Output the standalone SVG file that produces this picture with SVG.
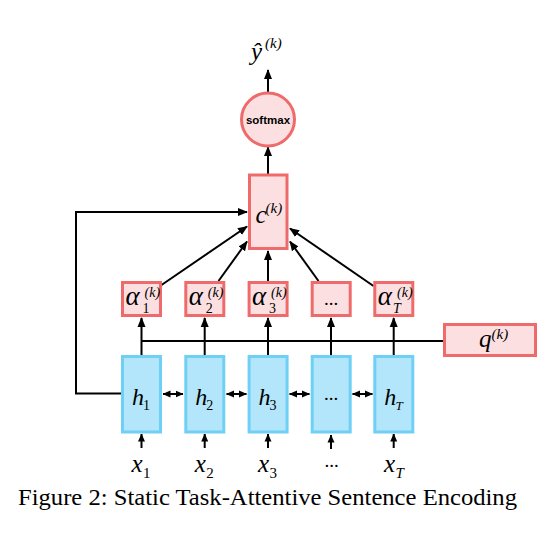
<svg xmlns="http://www.w3.org/2000/svg" width="538" height="544" viewBox="0 0 538 544">
<style>
.pk{fill:#fce0e1;stroke:#ef6b6b;stroke-width:3}
.bl{fill:#b3e6fa;stroke:#6fd0f6;stroke-width:3}
.ln{fill:none;stroke:#000;stroke-width:2}
.m{font-family:"Liberation Serif",Times,serif;font-style:italic;fill:#000}
.r{font-family:"Liberation Serif",Times,serif;font-style:normal;fill:#000}
.sf{font-family:"Liberation Sans",Arial,sans-serif;font-weight:bold;fill:#000}
</style>
<defs>
<marker id="ah" markerUnits="userSpaceOnUse" markerWidth="10" markerHeight="10" refX="9" refY="5" orient="auto-start-reverse" viewBox="0 0 10 10"><path d="M0,1 L10,5 L0,9 z" fill="#000"/></marker>
<marker id="as" markerUnits="userSpaceOnUse" markerWidth="8" markerHeight="8" refX="7.5" refY="4" orient="auto-start-reverse" viewBox="0 0 8 8"><path d="M0,0.5 L8,4 L0,7.5 z" fill="#000"/></marker>
</defs>

<g id="connectors">
  <line class="ln" x1="141.5" y1="448" x2="141.5" y2="434" marker-end="url(#as)"/>
  <line class="ln" x1="204.7" y1="448" x2="204.7" y2="434" marker-end="url(#as)"/>
  <line class="ln" x1="268" y1="448" x2="268" y2="434" marker-end="url(#as)"/>
  <line class="ln" x1="331" y1="449" x2="331" y2="435" marker-end="url(#as)"/>
  <line class="ln" x1="393.7" y1="448" x2="393.7" y2="434" marker-end="url(#as)"/>
  <line class="ln" x1="163" y1="394" x2="183" y2="394" marker-start="url(#as)" marker-end="url(#as)"/>
  <line class="ln" x1="226.5" y1="394" x2="246.5" y2="394" marker-start="url(#as)" marker-end="url(#as)"/>
  <line class="ln" x1="289.5" y1="394" x2="309.5" y2="394" marker-start="url(#as)" marker-end="url(#as)"/>
  <line class="ln" x1="352.5" y1="394" x2="372.5" y2="394" marker-start="url(#as)" marker-end="url(#as)"/>
  <line class="ln" x1="141.5" y1="341" x2="443" y2="341"/>
  <line class="ln" x1="141.5" y1="355" x2="141.5" y2="318" marker-end="url(#ah)"/>
  <line class="ln" x1="204.7" y1="355" x2="204.7" y2="318" marker-end="url(#ah)"/>
  <line class="ln" x1="268" y1="355" x2="268" y2="318" marker-end="url(#ah)"/>
  <line class="ln" x1="331" y1="355" x2="331" y2="318" marker-end="url(#ah)"/>
  <line class="ln" x1="393.7" y1="355" x2="393.7" y2="318" marker-end="url(#ah)"/>
  <polyline class="ln" points="121,393.5 76,393.5 76,212 247,212" marker-end="url(#ah)"/>
  <line class="ln" x1="161.5" y1="285" x2="247" y2="226.5" marker-end="url(#ah)"/>
  <line class="ln" x1="218.5" y1="281" x2="247" y2="241.5" marker-end="url(#ah)"/>
  <line class="ln" x1="268" y1="281" x2="268" y2="251" marker-end="url(#ah)"/>
  <line class="ln" x1="318.5" y1="281" x2="290" y2="241.5" marker-end="url(#ah)"/>
  <line class="ln" x1="373.5" y1="286" x2="290" y2="228.5" marker-end="url(#ah)"/>
  <line class="ln" x1="268" y1="174" x2="268" y2="147" marker-end="url(#ah)"/>
  <line class="ln" x1="268" y1="92" x2="268" y2="70" marker-end="url(#ah)"/>
</g>

<g id="y-hat">
  <text class="m" x="251" y="60" font-size="25">ŷ</text>
  <text class="m" x="265" y="48" font-size="15">(k)</text>
</g>

<g id="softmax">
  <circle class="pk" cx="268" cy="119.5" r="26.5"/>
  <text class="sf" x="268" y="123.5" font-size="11.5" text-anchor="middle">softmax</text>
</g>

<g id="c">
  <rect class="pk" x="249.5" y="175" width="37.5" height="73.5"/>
  <text class="m" x="255.5" y="222.5" font-size="25">c</text>
  <text class="m" x="265.5" y="213" font-size="15">(k)</text>
</g>

<g id="alpha1">
  <rect class="pk" x="122.5" y="282.5" width="38" height="33"/>
  <text class="m" x="125.5" y="305" font-size="27">α</text>
  <text class="r" x="142.5" y="312.5" font-size="14">1</text>
  <text class="m" x="144.5" y="296.5" font-size="14">(k)</text>
</g>
<g id="alpha2">
  <rect class="pk" x="185.8" y="282.5" width="38" height="33"/>
  <text class="m" x="188.8" y="305" font-size="27">α</text>
  <text class="r" x="205.8" y="312.5" font-size="14">2</text>
  <text class="m" x="207.8" y="296.5" font-size="14">(k)</text>
</g>
<g id="alpha3">
  <rect class="pk" x="249.1" y="282.5" width="38" height="33"/>
  <text class="m" x="252.1" y="305" font-size="27">α</text>
  <text class="r" x="269.1" y="312.5" font-size="14">3</text>
  <text class="m" x="271.1" y="296.5" font-size="14">(k)</text>
</g>
<g id="alpha-dots">
  <rect class="pk" x="312.2" y="282.5" width="38" height="33"/>
  <text class="r" x="331.2" y="305" font-size="19" text-anchor="middle">...</text>
</g>
<g id="alphaT">
  <rect class="pk" x="374.8" y="282.5" width="38" height="33"/>
  <text class="m" x="377.8" y="305" font-size="27">α</text>
  <text class="m" x="393" y="312.5" font-size="14">T</text>
  <text class="m" x="397" y="296.5" font-size="14">(k)</text>
</g>

<g id="q">
  <rect class="pk" x="444.5" y="324.5" width="91" height="31"/>
  <text class="m" x="479" y="347" font-size="25">q</text>
  <text class="m" x="491.5" y="339" font-size="15">(k)</text>
</g>

<g id="h1">
  <rect class="bl" x="122.5" y="356.5" width="38" height="75.5"/>
  <text class="m" x="132" y="405" font-size="24">h</text>
  <text class="r" x="143" y="410" font-size="14">1</text>
</g>
<g id="h2">
  <rect class="bl" x="185.8" y="356.5" width="38" height="75.5"/>
  <text class="m" x="195.3" y="405" font-size="24">h</text>
  <text class="r" x="206.3" y="410" font-size="14">2</text>
</g>
<g id="h3">
  <rect class="bl" x="249.1" y="356.5" width="38" height="75.5"/>
  <text class="m" x="258.6" y="405" font-size="24">h</text>
  <text class="r" x="269.6" y="410" font-size="14">3</text>
</g>
<g id="h-dots">
  <rect class="bl" x="312.2" y="356.5" width="38" height="75.5"/>
  <text class="r" x="331.2" y="400" font-size="19" text-anchor="middle">...</text>
</g>
<g id="hT">
  <rect class="bl" x="374.8" y="356.5" width="38" height="75.5"/>
  <text class="m" x="384.3" y="405" font-size="24">h</text>
  <text class="m" x="395.5" y="410" font-size="13">T</text>
</g>

<g id="inputs">
  <text class="m" x="131.5" y="471.5" font-size="25">x</text>
  <text class="r" x="143" y="477.5" font-size="15">1</text>
  <text class="m" x="194.7" y="471.5" font-size="25">x</text>
  <text class="r" x="206.2" y="477.5" font-size="15">2</text>
  <text class="m" x="258" y="471.5" font-size="25">x</text>
  <text class="r" x="269.5" y="477.5" font-size="15">3</text>
  <text class="r" x="331.5" y="467" font-size="19" text-anchor="middle">...</text>
  <text class="m" x="384" y="471.5" font-size="25">x</text>
  <text class="m" x="395.5" y="477.5" font-size="15">T</text>
</g>

<text class="r" x="18" y="505" font-size="23.5" textLength="499" lengthAdjust="spacingAndGlyphs">Figure 2: Static Task-Attentive Sentence Encoding</text>
</svg>
